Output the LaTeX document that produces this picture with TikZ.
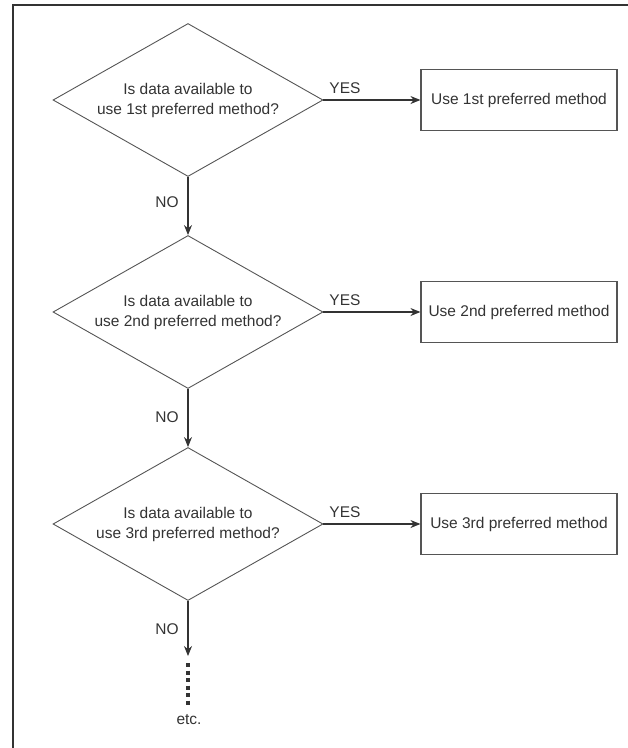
\documentclass[tikz,border=0pt]{standalone}
\usepackage{fontspec}
\setmainfont{Liberation Sans}
\usetikzlibrary{shapes.geometric,arrows.meta}
\definecolor{ink}{HTML}{333333}
\definecolor{edge}{HTML}{555555}
\begin{document}
\begin{tikzpicture}[x=1pt,y=-1pt,
  every node/.style={text=ink,font=\fontsize{15.5}{20}\selectfont},
  decision/.style={diamond,draw=edge,line width=0.9pt,aspect=1.78,inner sep=0pt,
    minimum width=270pt,minimum height=153pt,align=center},
  methodbox/.style={rectangle,draw=edge,line width=1.1pt,minimum width=196pt,minimum height=61pt},
  flow/.style={draw=ink,line width=1.1pt,-{Stealth[length=10pt,width=8pt]}},
  lbl/.style={inner sep=0pt}]
\useasboundingbox (0,0) rectangle (628,748);
\draw[line width=2pt,black!80] (13,748) -- (13,5) -- (628,5);

\node[decision] (d1) at (188,100) {Is data available to\\use 1st preferred method?};
\node[decision] (d2) at (188,312) {Is data available to\\use 2nd preferred method?};
\node[decision] (d3) at (188,524) {Is data available to\\use 3rd preferred method?};

\node[methodbox] (b1) at (519,100) {Use 1st preferred method};
\node[methodbox] (b2) at (519,312) {Use 2nd preferred method};
\node[methodbox] (b3) at (519,524) {Use 3rd preferred method};

\draw[flow] (d1.east) -- (b1.west);
\draw[flow] (d2.east) -- (b2.west);
\draw[flow] (d3.east) -- (b3.west);

\node[lbl] (y1) at (345,88) {YES};
\node[lbl] (y2) at (345,300) {YES};
\node[lbl] (y3) at (345,512) {YES};

\draw[flow] (d1.south) -- (d2.north);
\draw[flow] (d2.south) -- (d3.north);
\coordinate (end) at (188,656);
\draw[flow] (d3.south) -- (end);

\node[lbl] (n1) at (167,202) {NO};
\node[lbl] (n2) at (167,417) {NO};
\node[lbl] (n3) at (167,629) {NO};

\coordinate (dotA) at (188,663);
\coordinate (dotB) at (188,706);
\draw[ink,line width=3.6pt,dash pattern=on 4pt off 3.5pt] (dotA) -- (dotB);
\node[lbl] (etc) at (189,720) {etc.};
\end{tikzpicture}
\end{document}
